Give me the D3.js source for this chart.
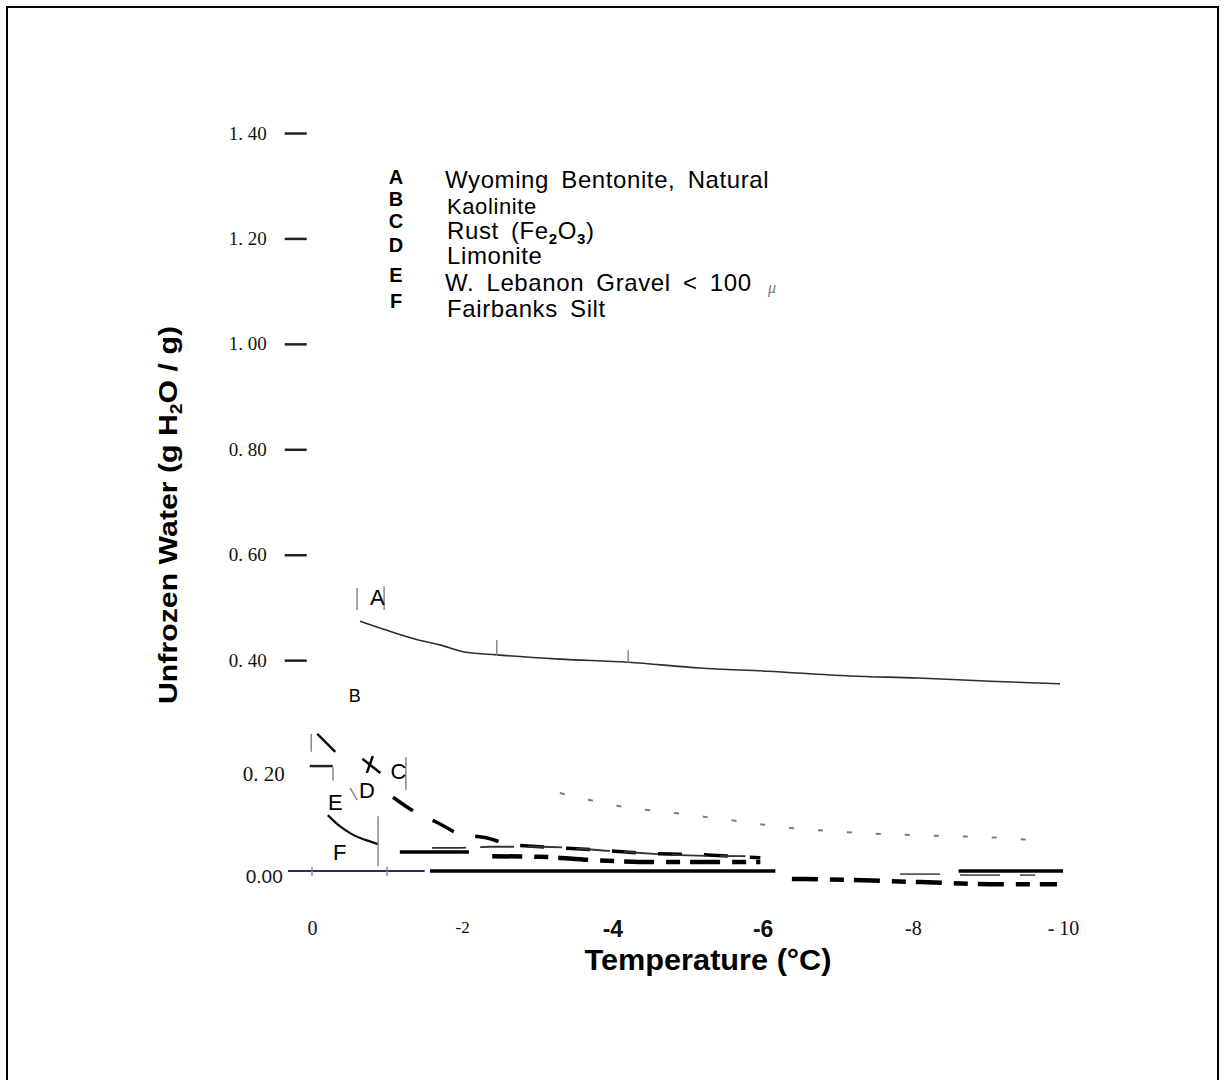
<!DOCTYPE html>
<html>
<head>
<meta charset="utf-8">
<script src="https://cdn.jsdelivr.net/npm/d3@7"></script>
<style>
  body { margin: 0; background: #fff; }
  svg { display: block; }
</style>
</head>
<body>
<div id="chart"></div>
<script>
// Unfrozen water content vs temperature (scanned figure)
const xTicks = [0, -2, -4, -6, -8, -10];
const xTickLabels = ["0", "-2", "-4", "-6", "-8", "- 10"];
const yTicks = [0, 0.2, 0.4, 0.6, 0.8, 1.0, 1.2, 1.4];
const yTickLabels = ["0.00", "0. 20", "0. 40", "0. 60", "0. 80", "1. 00", "1. 20", "1. 40"];

const legendKeys = ["A", "B", "C", "D", "E", "F"];
const legendNames = ["Wyoming Bentonite, Natural", "Kaolinite", "Rust (Fe_2O_3)", "Limonite",
    "W. Lebanon Gravel < 100", "Fairbanks Silt"];

// A  Wyoming Bentonite
const aTemps = [-0.64, -0.99, -1.37, -1.70, -2.05, -2.46, -3.30, -4.21, -5.17, -6.06, -7.16, -8.06, -9.03, -9.96];
const aValues = [0.474, 0.457, 0.440, 0.429, 0.415, 0.410, 0.402, 0.396, 0.385, 0.379, 0.370, 0.366, 0.360, 0.355];
// B  Kaolinite (first stroke, then the faint dashed run)
const bHeadTemps = [-0.07, -0.31];
const bHeadValues = [0.260, 0.226];
const bTemps = [-3.30, -4.10, -4.83, -5.54, -6.30, -7.07, -7.80, -8.56, -9.16, -9.72];
const bValues = [0.148, 0.123, 0.110, 0.097, 0.083, 0.074, 0.069, 0.066, 0.063, 0.057];
// C  Rust
const cTemps = [-1.08, -1.37, -1.68, -1.97, -2.32, -2.62, -3.04, -3.78, -4.39, -5.33, -5.97];
const cValues = [0.140, 0.112, 0.091, 0.070, 0.063, 0.051, 0.046, 0.040, 0.034, 0.030, 0.025];
// D  Limonite (upper run, then the run below the zero line)
const dHeadTemps = [-0.67, -0.91];
const dHeadValues = [0.213, 0.186];
const dTemps = [-2.40, -3.04, -3.70, -4.63, -5.43, -5.97];
const dValues = [0.028, 0.027, 0.021, 0.017, 0.017, 0.017];
const dLowTemps = [-6.39, -7.16, -8.10, -9.16, -9.92];
const dLowValues = [-0.015, -0.017, -0.021, -0.025, -0.025];
// E  W. Lebanon Gravel
const eTemps = [-0.21, -0.37, -0.53, -0.71, -0.88];
const eValues = [0.106, 0.085, 0.070, 0.059, 0.051];
const eTailTemps = [-1.60, -1.98, -2.37, -3.04, -3.97, -4.90, -5.77];
const eTailValues = [0.044, 0.044, 0.046, 0.046, 0.038, 0.030, 0.028];
const eLowTemps = [-7.83, -8.36, -8.79, -9.63];
const eLowValues = [-0.006, -0.006, -0.008, -0.008];
// F  Fairbanks Silt
const fTemps = [-1.17, -2.09];
const fValues = [0.036, 0.036];

// zero line pieces (temperature ranges)
const zeroSegments = [[0.32, -1.50], [-1.57, -6.17], [-8.61, -10.0]];

// in-plot curve letters
const curveLabels = ["A", "B", "C", "D", "E", "F"];
const curveLabelTemps = [-0.87, -0.57, -1.15, -0.73, -0.31, -0.37];
const curveLabelValues = [0.520, 0.332, 0.190, 0.154, 0.131, 0.036];

// leftover scan strokes [t1, v1, t2, v2]
const greyStrokes = [
    [-0.60, 0.537, -0.60, 0.495], [-0.96, 0.540, -0.96, 0.495],
    [-2.46, 0.438, -2.46, 0.408], [-4.21, 0.419, -4.21, 0.395],
    [0.01, 0.260, 0.01, 0.226], [-1.25, 0.216, -1.25, 0.154],
    [-0.88, 0.104, -0.88, 0.009], [-0.51, 0.157, -0.60, 0.135],
    [0, 0.008, 0, -0.009], [-1.0, 0.008, -1.0, -0.009],
    [-0.28, 0.197, -0.28, 0.171]
];
const blackStrokes = [[-0.73, 0.186, -0.81, 0.218]];

const width = 1224, height = 1080;
const svg = d3.select("#chart").append("svg")
    .attr("width", width)
    .attr("height", height)

// page frame
svg.append("rect")
    .attr("x", 7).attr("y", 7)
    .attr("width", 1211).attr("height", 1090)
    .attr("fill", "none")
    .attr("stroke", "#000")
    .attr("stroke-width", 2)

var x = d3.scaleLinear().domain([0, -10]).range([312, 1063])
var y = d3.scaleLinear().domain([0, 1.4]).range([871, 133])

const serif = "'Liberation Serif', 'Times New Roman', serif";
const sans = "'Liberation Sans', Arial, sans-serif";

// y axis: ticks only
const yAxis = svg.append("g")
    .attr("transform", "translate(" + x(0.07) + ",0)")
    .call(d3.axisLeft(y).tickValues(yTicks).tickSize(22).tickPadding(18)
        .tickFormat((d, i) => yTickLabels[i]))
yAxis.select(".domain").remove()
yAxis.selectAll(".tick line").attr("stroke", "#222").attr("stroke-width", 2.5)
yAxis.selectAll(".tick text")
    .attr("font-family", serif)
    .attr("font-size", 19)
    .attr("fill", "#111")
yAxis.selectAll(".tick").filter(d => d === 0).select("line").remove()
yAxis.selectAll(".tick").filter(d => d === 0).select("text")
    .attr("font-family", sans).attr("font-size", 19).attr("x", -24).attr("dy", "0.6em")
yAxis.selectAll(".tick").filter(d => d === 0.2).select("line")
    .attr("x1", 3).attr("x2", 26)
yAxis.selectAll(".tick").filter(d => d === 0.2).select("text")
    .attr("font-size", 21).attr("x", -22).attr("dy", "0.7em")

// x axis: labels only
const xAxis = svg.append("g")
    .attr("transform", "translate(0,915)")
    .call(d3.axisBottom(x).tickValues(xTicks).tickSize(0).tickPadding(6)
        .tickFormat((d, i) => xTickLabels[i]))
xAxis.select(".domain").remove()
xAxis.selectAll(".tick text")
    .attr("font-family", serif)
    .attr("font-size", 20)
    .attr("fill", "#111")
xAxis.selectAll(".tick").filter(d => d === -4 || d === -6).select("text")
    .attr("font-family", sans).attr("font-weight", "bold").attr("font-size", 23)
xAxis.selectAll(".tick").filter(d => d === -2).select("text")
    .attr("font-size", 17)

// axis titles
svg.append("text")
    .attr("x", 708).attr("y", 970)
    .attr("text-anchor", "middle")
    .attr("font-family", sans).attr("font-weight", "bold").attr("font-size", 29)
    .attr("textLength", 247).attr("lengthAdjust", "spacingAndGlyphs")
    .text("Temperature (°C)")
const yTitle = svg.append("text")
    .attr("transform", "translate(177,515) rotate(-90)")
    .attr("text-anchor", "middle")
    .attr("font-family", sans).attr("font-weight", "bold").attr("font-size", 25)
    .attr("textLength", 378).attr("lengthAdjust", "spacingAndGlyphs")
yTitle.append("tspan").text("Unfrozen Water (g H")
yTitle.append("tspan").attr("font-size", 16).attr("dy", 5).text("2")
yTitle.append("tspan").attr("dy", -5).text("O / g)")

// zero line
svg.append("g").selectAll("line")
    .data(zeroSegments)
    .join("line")
    .attr("x1", d => x(d[0])).attr("x2", d => x(d[1]))
    .attr("y1", y(0)).attr("y2", y(0))
    .attr("stroke", (d, i) => i === 0 ? "#2a2a6a" : "#000")
    .attr("stroke-width", (d, i) => i === 0 ? 2 : 3.5)

var line = d3.line()
    .x(d => x(d[0]))
    .y(d => y(d[1]))
    .curve(d3.curveMonotoneX)

function drawSeries(temps, values, stroke, strokeWidth, dash) {
    svg.append("path")
        .datum(d3.zip(temps, values))
        .attr("fill", "none")
        .attr("stroke", stroke)
        .attr("stroke-width", strokeWidth)
        .attr("stroke-dasharray", dash)
        .attr("stroke-linecap", "butt")
        .attr("d", line)
}

drawSeries(aTemps, aValues, "#2b2b3a", 1.6, null)
drawSeries(bHeadTemps, bHeadValues, "#111", 2.5, null)
drawSeries(bTemps, bValues, "#777a90", 2, "5,24")
drawSeries(cTemps, cValues, "#000", 3.5, "24,22")
drawSeries(dHeadTemps, dHeadValues, "#000", 2.5, null)
drawSeries(dTemps, dValues, "#000", 4.5, "30,12,14,10")
drawSeries(dLowTemps, dLowValues, "#000", 4.5, "26,12,14,10")
drawSeries(eTemps, eValues, "#111", 2.2, null)
drawSeries(eTailTemps, eTailValues, "#333", 1.8, "34,14")
drawSeries(eLowTemps, eLowValues, "#556", 1.8, "40,20")
drawSeries(fTemps, fValues, "#000", 3.5, null)

// stray strokes
svg.append("g").selectAll("line")
    .data(greyStrokes)
    .join("line")
    .attr("x1", d => x(d[0])).attr("y1", d => y(d[1]))
    .attr("x2", d => x(d[2])).attr("y2", d => y(d[3]))
    .attr("stroke", "#888")
    .attr("stroke-width", 1.5)
svg.append("g").selectAll("line")
    .data(blackStrokes)
    .join("line")
    .attr("x1", d => x(d[0])).attr("y1", d => y(d[1]))
    .attr("x2", d => x(d[2])).attr("y2", d => y(d[3]))
    .attr("stroke", "#000")
    .attr("stroke-width", 2.5)

// curve letters
svg.append("g").selectAll("text")
    .data(curveLabels)
    .join("text")
    .attr("x", (d, i) => x(curveLabelTemps[i]))
    .attr("y", (d, i) => y(curveLabelValues[i]))
    .attr("dy", "0.36em")
    .attr("text-anchor", "middle")
    .attr("font-family", sans)
    .attr("font-size", d => d === "B" ? 18 : 22)
    .text(d => d)

// legend
const legendKeyY = [184, 206, 228, 252, 282, 308];
const legendNameY = [188, 214, 239, 264, 291, 317];
const legend = svg.append("g")
legend.selectAll("text.key")
    .data(legendKeys)
    .join("text")
    .attr("class", "key")
    .attr("x", 396)
    .attr("y", (d, i) => legendKeyY[i])
    .attr("text-anchor", "middle")
    .attr("font-family", "'Liberation Sans Narrow', " + sans)
    .attr("font-weight", "bold")
    .attr("font-size", 20)
    .text(d => d)
legend.selectAll("text.name")
    .data(legendNames)
    .join("text")
    .attr("class", "name")
    .attr("x", (d, i) => i === 0 || i === 4 ? 445 : 447)
    .attr("y", (d, i) => legendNameY[i])
    .attr("font-family", sans)
    .attr("font-size", (d, i) => i === 1 ? 22 : 24)
    .attr("word-spacing", 5)
    .attr("letter-spacing", 0.6)
    .each(function (d) {
        const parts = d.split(/_(\d)/)
        const t = d3.select(this)
        parts.forEach((p, j) => {
            if (j % 2 === 1) {
                t.append("tspan").attr("font-size", 15).attr("font-weight", "bold").attr("dy", 5).text(p)
            } else if (p.length) {
                t.append("tspan").attr("dy", j > 0 ? -5 : 0).text(p)
            }
        })
    })
svg.append("text")
    .attr("x", 768).attr("y", 293)
    .attr("font-family", serif)
    .attr("font-style", "italic")
    .attr("font-size", 16)
    .attr("fill", "#777")
    .text("μ")
</script>
</body>
</html>
